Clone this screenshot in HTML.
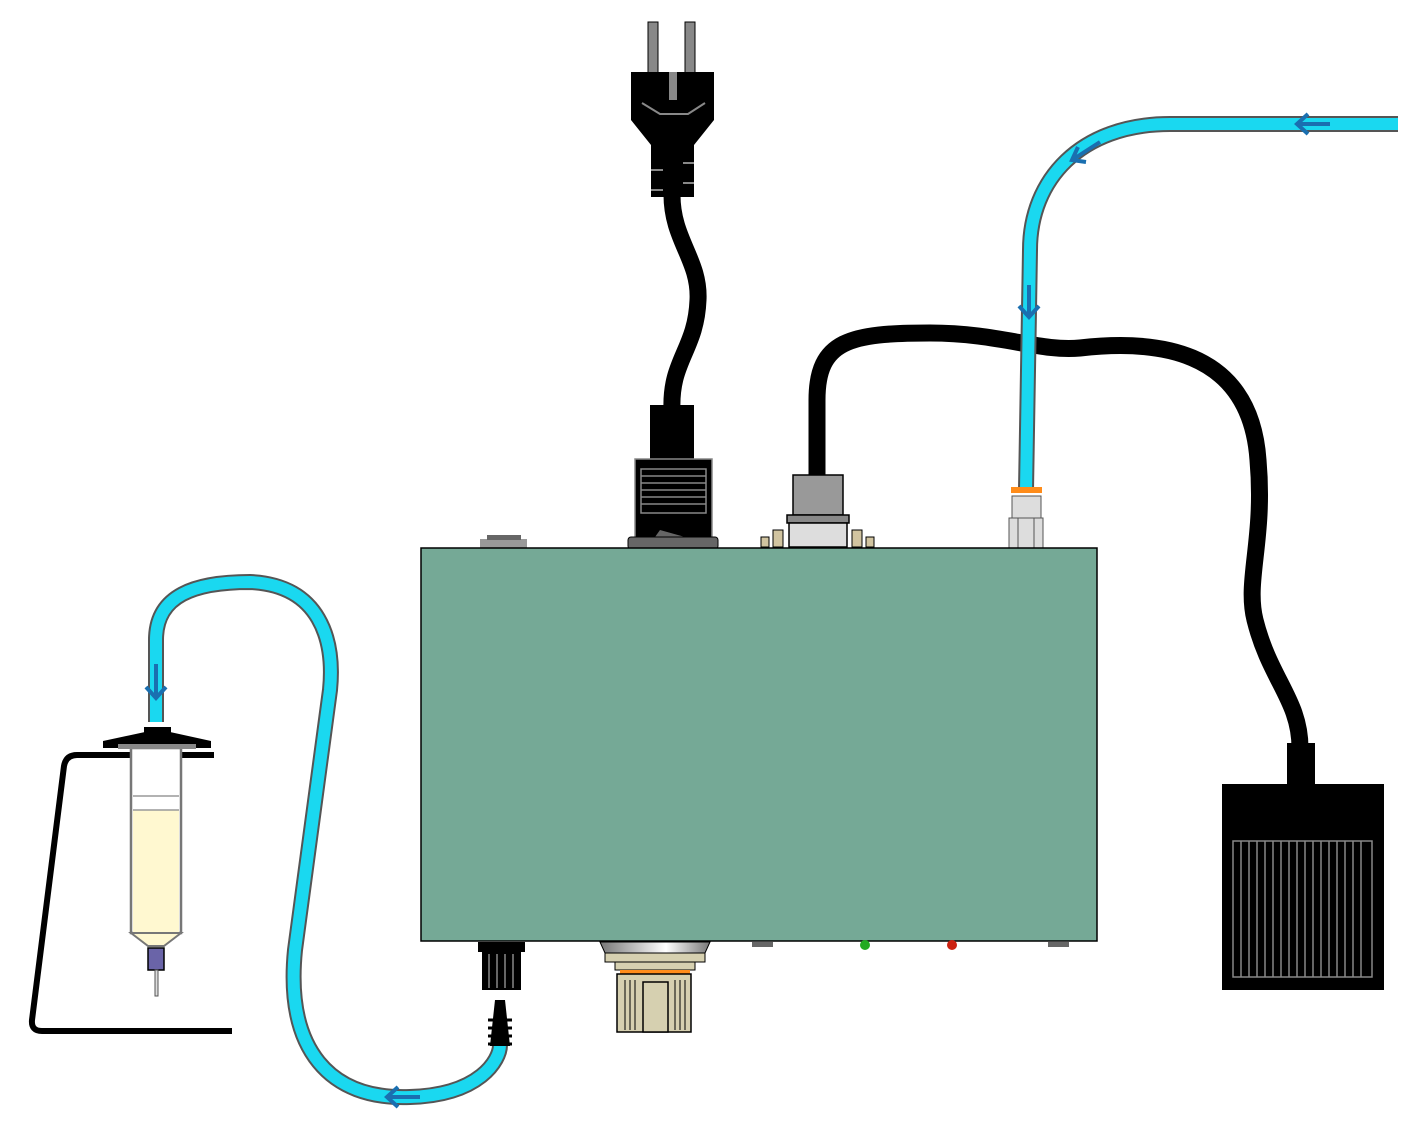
<!DOCTYPE html>
<html><head><style>html,body{margin:0;padding:0;background:#fff;}svg{display:block}</style></head>
<body>
<svg width="1417" height="1122" viewBox="0 0 1417 1122" xmlns="http://www.w3.org/2000/svg">
<defs>
<linearGradient id="met" x1="0" x2="1"><stop offset="0" stop-color="#777"/><stop offset="0.6" stop-color="#fff"/><stop offset="1" stop-color="#777"/></linearGradient>
</defs>
<!-- black cables -->
<path d="M672,195 C672,240 700,260 698,300 C696,350 670,360 672,410" fill="none" stroke="#000" stroke-width="17"/>
<path d="M817,478 L817,400 C817,340 850,333 930,333 C1000,333 1040,352 1080,348 C1150,340 1250,345 1258,460 C1265,540 1245,580 1255,620 C1270,680 1300,700 1300,748" fill="none" stroke="#000" stroke-width="17"/>
<!-- right tube -->
<path d="M1398,124 L1170,124 C1080,124 1030,180 1030,250 L1026,490" fill="none" stroke="#555" stroke-width="16"/>
<path d="M1398,124 L1170,124 C1080,124 1030,180 1030,250 L1026,490" fill="none" stroke="#1ad8f0" stroke-width="12"/>
<!-- left tube -->
<path d="M156,722 L156,640 C156,595 195,582 250,582 C320,585 335,640 330,690 L295,950 C285,1050 330,1100 410,1097 C480,1095 500,1060 500,1045" fill="none" stroke="#555" stroke-width="16"/>
<path d="M156,722 L156,640 C156,595 195,582 250,582 C320,585 335,640 330,690 L295,950 C285,1050 330,1100 410,1097 C480,1095 500,1060 500,1045" fill="none" stroke="#1ad8f0" stroke-width="12"/>
<!-- arrows -->
<g stroke="#1a6fb0" stroke-width="4" fill="none">
<path d="M1330,124 L1297,124 M1308,114 L1297,124 L1308,134"/>
<path d="M1100,142 L1072,160 M1078,147 L1072,160 L1086,162"/>
<path d="M1029,285 L1029,317 M1019,306 L1029,317 L1039,306"/>
<path d="M156,664 L156,698 M146,687 L156,698 L166,687"/>
<path d="M420,1097 L387,1097 M398,1087 L387,1097 L398,1107"/>
</g>
<!-- plug -->
<rect x="648" y="22" width="10" height="52" fill="#888" stroke="#000" stroke-width="1"/>
<rect x="685" y="22" width="10" height="52" fill="#888" stroke="#000" stroke-width="1"/>
<path d="M631,72 L714,72 L714,120 L694,145 L694,197 L651,197 L651,145 L631,120 Z" fill="#000"/>
<rect x="669" y="72" width="8" height="28" fill="#888"/>
<path d="M642,103 L660,114 L688,114 L705,103" fill="none" stroke="#888" stroke-width="2"/>
<line x1="651" y1="170" x2="663" y2="170" stroke="#888" stroke-width="2"/><line x1="651" y1="190" x2="663" y2="190" stroke="#888" stroke-width="2"/>
<line x1="683" y1="163" x2="694" y2="163" stroke="#888" stroke-width="2"/><line x1="683" y1="183" x2="694" y2="183" stroke="#888" stroke-width="2"/>
<!-- power socket -->
<rect x="650" y="405" width="44" height="56" fill="#000"/>
<rect x="635" y="459" width="77" height="80" fill="#000" stroke="#888" stroke-width="1.5"/>
<g stroke="#888" stroke-width="1.5" fill="none"><rect x="641" y="469" width="65" height="44"/>
<line x1="641" y1="476" x2="706" y2="476"/><line x1="641" y1="483" x2="706" y2="483"/><line x1="641" y1="490" x2="706" y2="490"/><line x1="641" y1="497" x2="706" y2="497"/><line x1="641" y1="504" x2="706" y2="504"/></g>
<path d="M655,537 L660,530 L685,537 Z" fill="#666"/>
<rect x="628" y="537" width="90" height="12" rx="3" fill="#666" stroke="#000"/>
<!-- dsub -->
<rect x="793" y="475" width="50" height="40" fill="#999" stroke="#000" stroke-width="1.5"/>
<rect x="787" y="515" width="62" height="8" fill="#888" stroke="#000" stroke-width="1.5"/>
<rect x="789" y="523" width="58" height="24" fill="#ddd" stroke="#000" stroke-width="1.5"/>
<g fill="#d1c4a0" stroke="#000"><rect x="761" y="537" width="8" height="10"/><rect x="773" y="530" width="10" height="17"/><rect x="852" y="530" width="10" height="17"/><rect x="866" y="537" width="8" height="10"/></g>
<!-- air fitting -->
<rect x="1011" y="487" width="31" height="6" fill="#ff8c1a"/>
<rect x="1012" y="496" width="29" height="22" fill="#ddd" stroke="#555"/>
<rect x="1009" y="518" width="34" height="30" fill="#ddd" stroke="#555"/>
<line x1="1018" y1="518" x2="1018" y2="548" stroke="#555"/><line x1="1034" y1="518" x2="1034" y2="548" stroke="#555"/>
<!-- small item -->
<rect x="480" y="539" width="47" height="9" fill="#999"/><rect x="487" y="535" width="34" height="5" fill="#666"/>
<!-- main box -->
<rect x="421" y="548" width="676" height="393" fill="#75a996" stroke="#000" stroke-width="1.5"/>
<!-- bottom connectors -->
<rect x="478" y="942" width="47" height="10" fill="#000"/>
<rect x="482" y="952" width="39" height="38" fill="#000"/>
<g stroke="#888" stroke-width="1.5"><line x1="489" y1="954" x2="489" y2="988"/><line x1="497" y1="954" x2="497" y2="988"/><line x1="505" y1="954" x2="505" y2="988"/><line x1="513" y1="954" x2="513" y2="988"/></g>
<path d="M495,1000 L505,1000 L510,1046 L490,1046 Z" fill="#000"/>
<g stroke="#000" stroke-width="3"><line x1="488" y1="1020" x2="512" y2="1020"/><line x1="488" y1="1028" x2="512" y2="1028"/><line x1="488" y1="1036" x2="512" y2="1036"/><line x1="488" y1="1044" x2="512" y2="1044"/></g>
<path d="M600,942 L710,942 L705,953 L605,953 Z" fill="url(#met)" stroke="#000"/>
<rect x="605" y="953" width="100" height="9" fill="#d6d0b0" stroke="#000"/>
<rect x="615" y="962" width="80" height="8" fill="#d6d0b0" stroke="#000"/>
<rect x="620" y="970" width="70" height="4" fill="#ff8c1a"/>
<rect x="617" y="974" width="74" height="58" fill="#d6d0b0" stroke="#000" stroke-width="1.5"/>
<rect x="643" y="982" width="25" height="50" fill="#d6d0b0" stroke="#000" stroke-width="1.5"/>
<g stroke="#000"><line x1="625" y1="980" x2="625" y2="1030"/><line x1="630" y1="980" x2="630" y2="1030"/><line x1="635" y1="980" x2="635" y2="1030"/><line x1="675" y1="980" x2="675" y2="1030"/><line x1="680" y1="980" x2="680" y2="1030"/><line x1="685" y1="980" x2="685" y2="1030"/></g>
<rect x="752" y="942" width="21" height="5" fill="#666"/>
<circle cx="865" cy="945" r="5" fill="#2a2"/>
<circle cx="952" cy="945" r="5" fill="#c21"/>
<rect x="1048" y="942" width="21" height="5" fill="#666"/>
<!-- pedal -->
<rect x="1287" y="743" width="28" height="44" fill="#000"/>
<rect x="1222" y="784" width="162" height="206" fill="#000"/>
<rect x="1233" y="841" width="139" height="136" fill="none" stroke="#888" stroke-width="1.5"/>
<g stroke="#888" stroke-width="1.5" id="gr"></g>
<path d="M1241,841V977M1249,841V977M1257,841V977M1265,841V977M1273,841V977M1281,841V977M1289,841V977M1297,841V977M1305,841V977M1313,841V977M1321,841V977M1329,841V977M1337,841V977M1345,841V977M1353,841V977M1361,841V977" stroke="#888" stroke-width="1.5"/>
<!-- syringe stand -->
<path d="M232,1031 L42,1031 Q31,1031 32,1020 L64,766 Q66,755 77,755 L214,755" fill="none" stroke="#000" stroke-width="6"/>
<rect x="131" y="748" width="50" height="185" fill="#fff" stroke="#777" stroke-width="2.5"/>
<rect x="133" y="810" width="46" height="122" fill="#fff8d0"/>
<line x1="133" y1="796" x2="179" y2="796" stroke="#999" stroke-width="1.5"/>
<line x1="133" y1="810" x2="179" y2="810" stroke="#999" stroke-width="1.5"/>
<path d="M131,933 L148,946 L164,946 L181,933 Z" fill="#fff8d0" stroke="#777" stroke-width="2"/>
<rect x="148" y="948" width="16" height="22" fill="#6a64a8" stroke="#000" stroke-width="1.5"/>
<rect x="155" y="970" width="3" height="26" fill="#ddd" stroke="#555" stroke-width="1"/>
<path d="M103,741 L145,732 L170,732 L211,741 L211,748 L103,748 Z" fill="#000"/>
<rect x="144" y="727" width="27" height="12" fill="#000"/>
<rect x="118" y="744" width="78" height="5" fill="#888"/>
</svg>
</body></html>
